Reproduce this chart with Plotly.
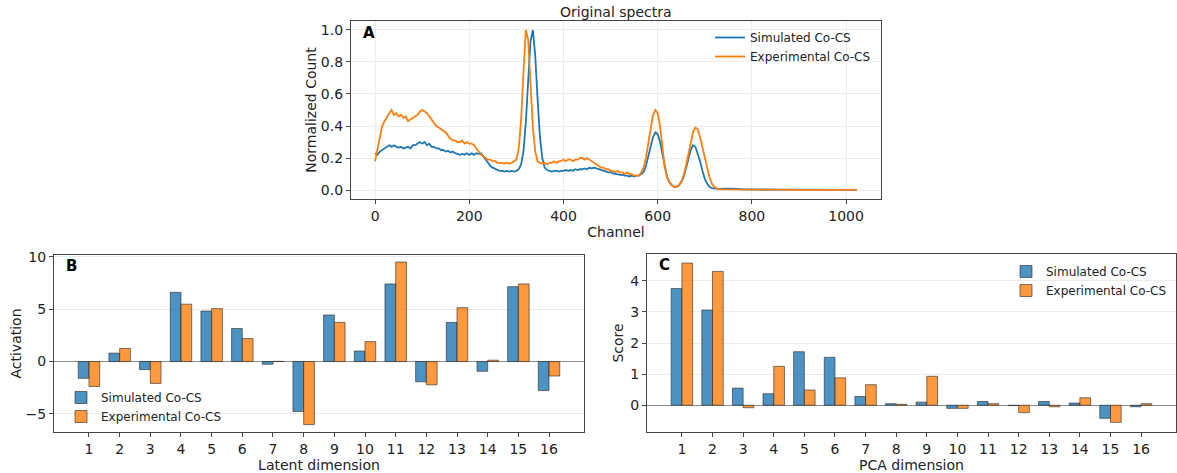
import plotly.graph_objects as go

# ---------------- Data ----------------
channels = list(range(0, 735, 5)) + [740, 760, 780, 800, 850, 900, 950, 1000, 1023]

sim_spectrum = [
    0.23, 0.22, 0.24, 0.25, 0.26, 0.27, 0.28, 0.27, 0.28, 0.27,
    0.265, 0.27, 0.26, 0.265, 0.27, 0.26, 0.28, 0.28, 0.29, 0.30,
    0.29, 0.30, 0.28, 0.29, 0.27, 0.27, 0.26, 0.26, 0.25, 0.25,
    0.24, 0.245, 0.235, 0.24, 0.23, 0.225, 0.22, 0.225, 0.22, 0.23,
    0.22, 0.23, 0.22, 0.23, 0.225, 0.23, 0.21, 0.19, 0.17, 0.15,
    0.14, 0.13, 0.125, 0.12, 0.12, 0.115, 0.12, 0.115, 0.12, 0.115,
    0.12, 0.13, 0.16, 0.24, 0.42, 0.68, 0.93, 1.00, 0.84, 0.57,
    0.33, 0.20, 0.14, 0.125, 0.12, 0.115, 0.12, 0.12, 0.115, 0.12,
    0.12, 0.125, 0.12, 0.125, 0.12, 0.13, 0.125, 0.13, 0.13, 0.135,
    0.13, 0.14, 0.135, 0.14, 0.135, 0.13, 0.125, 0.12, 0.115, 0.11,
    0.11, 0.105, 0.10, 0.10, 0.095, 0.095, 0.09, 0.09, 0.085, 0.09,
    0.085, 0.09, 0.09, 0.10, 0.11, 0.15, 0.21, 0.28, 0.33, 0.36,
    0.35, 0.30, 0.22, 0.14, 0.08, 0.05, 0.03, 0.02, 0.02, 0.03,
    0.05, 0.08, 0.13, 0.19, 0.25, 0.28, 0.27, 0.23, 0.18, 0.12,
    0.07, 0.04, 0.02, 0.012, 0.01, 0.008, 0.007,
    0.008, 0.009, 0.005, 0.003, 0.002, 0.002, 0.001, 0.001, 0.001,
]

exp_spectrum = [
    0.18, 0.26, 0.34, 0.40, 0.43, 0.46, 0.48, 0.50, 0.47, 0.48,
    0.46, 0.47, 0.45, 0.46, 0.43, 0.44, 0.45, 0.46, 0.47, 0.49,
    0.50, 0.49, 0.48, 0.46, 0.44, 0.42, 0.40, 0.39, 0.38, 0.37,
    0.36, 0.34, 0.32, 0.31, 0.31, 0.30, 0.30, 0.31, 0.29, 0.30,
    0.29, 0.29, 0.28, 0.26, 0.24, 0.22, 0.21, 0.20, 0.19, 0.19,
    0.18, 0.18, 0.17, 0.17, 0.17, 0.165, 0.17, 0.165, 0.17, 0.18,
    0.19, 0.26, 0.44, 0.73, 1.00, 0.94, 0.68, 0.39, 0.24, 0.18,
    0.17, 0.165, 0.17, 0.16, 0.17, 0.17, 0.18, 0.17, 0.18, 0.18,
    0.19, 0.18, 0.19, 0.19, 0.18, 0.19, 0.19, 0.20, 0.20, 0.19,
    0.20, 0.19, 0.18, 0.17, 0.16, 0.15, 0.14, 0.14, 0.13, 0.13,
    0.12, 0.12, 0.11, 0.12, 0.11, 0.11, 0.10, 0.11, 0.10, 0.10,
    0.09, 0.09, 0.09, 0.11, 0.14, 0.20, 0.29, 0.39, 0.47, 0.50,
    0.48, 0.40, 0.25, 0.14, 0.08, 0.045, 0.03, 0.02, 0.02, 0.03,
    0.05, 0.09, 0.15, 0.22, 0.30, 0.36, 0.39, 0.38, 0.33, 0.27,
    0.21, 0.14, 0.08, 0.04, 0.02, 0.01, 0.006,
    0.004, 0.003, 0.003, 0.002, 0.002, 0.001, 0.001, 0.001, 0.001,
]

dims = list(range(1, 17))
dim_labels = [str(d) for d in dims]

latent_sim = [-1.6, 0.8, -0.77, 6.6, 4.82, 3.15, -0.26, -4.76, 4.44, 1.0, 7.4, -1.93, 3.73, -0.93, 7.14, -2.77]
latent_exp = [-2.38, 1.25, -2.09, 5.47, 5.05, 2.19, 0.02, -6.01, 3.73, 1.9, 9.49, -2.22, 5.14, 0.13, 7.4, -1.38]

pca_sim = [3.75, 3.06, 0.55, 0.37, 1.72, 1.54, 0.28, 0.05, 0.10, -0.10, 0.12, -0.01, 0.12, 0.07, -0.42, -0.05]
pca_exp = [4.57, 4.30, -0.08, 1.25, 0.49, 0.88, 0.66, 0.03, 0.93, -0.10, 0.05, -0.24, -0.05, 0.24, -0.55, 0.05]

SIM_NAME = "Simulated Co-CS"
EXP_NAME = "Experimental Co-CS"

# ---------------- Style ----------------
W, H = 1177, 473
BLUE = "#1f77b4"
ORANGE = "#ff7f0e"
BLUE_BAR = "rgba(31,119,180,0.8)"
ORANGE_BAR = "rgba(255,127,14,0.8)"
EDGE = "rgba(40,40,40,0.6)"
FONT = "DejaVu Sans"
FRAME = "#444444"
GRID = "#ebebeb"


def px_x(a, b):
    return [a / W, b / W]


def px_y(top, bottom):
    return [1 - bottom / H, 1 - top / H]


fig = go.Figure()

fig.add_trace(go.Scatter(x=channels, y=sim_spectrum, mode="lines", name=SIM_NAME,
                         line=dict(color=BLUE, width=1.8), xaxis="x", yaxis="y", legend="legend"))
fig.add_trace(go.Scatter(x=channels, y=exp_spectrum, mode="lines", name=EXP_NAME,
                         line=dict(color=ORANGE, width=1.8), xaxis="x", yaxis="y", legend="legend"))

fig.add_trace(go.Bar(x=dims, y=latent_sim, name=SIM_NAME, width=0.35, offset=-0.35,
                     marker=dict(color=BLUE_BAR, line=dict(color=EDGE, width=1)),
                     xaxis="x2", yaxis="y2", legend="legend2"))
fig.add_trace(go.Bar(x=dims, y=latent_exp, name=EXP_NAME, width=0.35, offset=0,
                     marker=dict(color=ORANGE_BAR, line=dict(color=EDGE, width=1)),
                     xaxis="x2", yaxis="y2", legend="legend2"))

fig.add_trace(go.Bar(x=dims, y=pca_sim, name=SIM_NAME, width=0.35, offset=-0.35,
                     marker=dict(color=BLUE_BAR, line=dict(color=EDGE, width=1)),
                     xaxis="x3", yaxis="y3", legend="legend3"))
fig.add_trace(go.Bar(x=dims, y=pca_exp, name=EXP_NAME, width=0.35, offset=0,
                     marker=dict(color=ORANGE_BAR, line=dict(color=EDGE, width=1)),
                     xaxis="x3", yaxis="y3", legend="legend3"))

axis_common = dict(showline=True, mirror=True, linecolor=FRAME, linewidth=1.3,
                   ticks="outside", ticklen=4, tickcolor=FRAME, tickwidth=1,
                   tickfont=dict(family=FONT, size=14, color="#222"),
                   automargin=False, gridcolor=GRID, gridwidth=1)
title_font = dict(family=FONT, size=14, color="#222")

fig.update_layout(
    width=W, height=H, autosize=False,
    margin=dict(l=0, r=0, t=0, b=0),
    paper_bgcolor="white", plot_bgcolor="white",
    font=dict(family=FONT, size=14, color="#222"),
    barmode="overlay",
    xaxis=dict(domain=px_x(351, 881), range=[-51.15, 1074.15], tickvals=[0, 200, 400, 600, 800, 1000],
               showgrid=True, zeroline=False, anchor="y",
               title=dict(text="Channel", font=title_font, standoff=0), **axis_common),
    yaxis=dict(domain=px_y(21, 199), range=[-0.056, 1.056], tickvals=[0, 0.2, 0.4, 0.6, 0.8, 1.0],
               tickformat=".1f", showgrid=True, zeroline=False, anchor="x",
               title=dict(text="Normalized Count", font=title_font, standoff=0), **axis_common),
    xaxis2=dict(domain=px_x(54, 584), range=[-0.14, 17.14], tickvals=dims, ticktext=dim_labels,
                showgrid=False, zeroline=False, anchor="y2",
                title=dict(text="Latent dimension", font=title_font, standoff=0), **axis_common),
    yaxis2=dict(domain=px_y(255, 432), range=[-6.72, 10.16], tickvals=[-5, 0, 5, 10],
                ticktext=["\u22125", "0", "5", "10"],
                showgrid=True, zeroline=True, zerolinecolor="#8c8c8c", zerolinewidth=1.2, anchor="x2",
                title=dict(text="Activation", font=title_font, standoff=0), **axis_common),
    xaxis3=dict(domain=px_x(647, 1176), range=[-0.14, 17.14], tickvals=dims, ticktext=dim_labels,
                showgrid=False, zeroline=False, anchor="y3",
                title=dict(text="PCA dimension", font=title_font, standoff=0), **axis_common),
    yaxis3=dict(domain=px_y(254, 432), range=[-0.86, 4.86], tickvals=[0, 1, 2, 3, 4],
                showgrid=True, zeroline=True, zerolinecolor="#8c8c8c", zerolinewidth=1.2, anchor="x3",
                title=dict(text="Score", font=title_font, standoff=3), **axis_common),
    legend=dict(x=710 / W, y=1 - 23 / H, xanchor="left", yanchor="top", bgcolor="rgba(0,0,0,0)",
                font=dict(family=FONT, size=12, color="#222"), itemwidth=30, tracegroupgap=0),
    legend2=dict(x=61 / W, y=1 - 383 / H, xanchor="left", yanchor="top", bgcolor="rgba(0,0,0,0)",
                 font=dict(family=FONT, size=12, color="#222"), itemwidth=30),
    legend3=dict(x=1006 / W, y=1 - 257 / H, xanchor="left", yanchor="top", bgcolor="rgba(0,0,0,0)",
                 font=dict(family=FONT, size=12, color="#222"), itemwidth=30),
    annotations=[
        dict(text="Original spectra", x=616 / W, y=1 - 12 / H, xref="paper", yref="paper",
             showarrow=False, font=dict(family=FONT, size=14, color="#222"), xanchor="center", yanchor="middle"),
        dict(text="<b>A</b>", x=361 / W, y=1 - 33 / H, xref="paper", yref="paper",
             showarrow=False, font=dict(family=FONT, size=15, color="black"), xanchor="left", yanchor="middle"),
        dict(text="<b>B</b>", x=64 / W, y=1 - 266 / H, xref="paper", yref="paper",
             showarrow=False, font=dict(family=FONT, size=15, color="black"), xanchor="left", yanchor="middle"),
        dict(text="<b>C</b>", x=657 / W, y=1 - 265 / H, xref="paper", yref="paper",
             showarrow=False, font=dict(family=FONT, size=15, color="black"), xanchor="left", yanchor="middle"),
    ],
)

fig.write_html("out.html")
